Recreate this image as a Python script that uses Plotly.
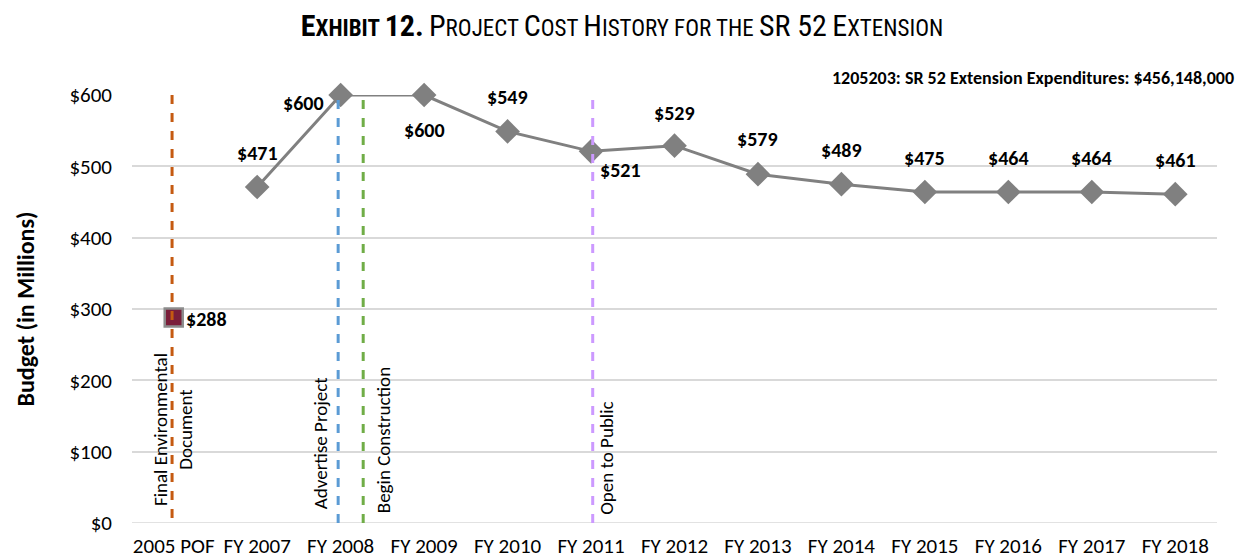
import plotly.graph_objects as go

categories = ["2005 POF", "FY 2007", "FY 2008", "FY 2009", "FY 2010", "FY 2011", "FY 2012",
              "FY 2013", "FY 2014", "FY 2015", "FY 2016", "FY 2017", "FY 2018"]
pof_value = [288]
fy_values = [471, 600, 600, 549, 521, 529, 489, 475, 464, 464, 464, 461]
fy_labels = ["$471", "$600", "$600", "$549", "$521", "$529", "$579", "$489", "$475", "$464", "$464", "$461"]
y_ticks = [0, 100, 200, 300, 400, 500, 600]

milestones = ["Final Environmental<br>Document", "Advertise Project", "Begin Construction", "Open to Public"]
milestone_pos = [-0.02, 1.97, 2.27, 5.02]
milestone_colors = ["#C55A11", "#5B9BD5", "#70AD47", "#CC99FF"]

FONT = "Carlito, Lato, Open Sans, sans-serif"
x_idx = list(range(len(categories)))
fy_x = x_idx[1:]

fig = go.Figure()

# milestone vertical lines
line_tops = [600, 598, 600, 604]
line_bottoms = [7, 0, 0, 0]
for p, c, t, b in zip(milestone_pos, milestone_colors, line_tops, line_bottoms):
    fig.add_shape(type="line", x0=p, x1=p, y0=b, y1=t, xref="x", yref="y",
                  line=dict(color=c, width=3, dash="dash"), layer="above")

fig.add_trace(go.Scatter(x=fy_x, y=fy_values, mode="lines+markers",
                         line=dict(color="#808080", width=3),
                         marker=dict(symbol="diamond", size=19, color="#808080"),
                         cliponaxis=False, hoverinfo="skip", showlegend=False))
fig.add_trace(go.Scatter(x=[0], y=pof_value, mode="markers",
                         marker=dict(symbol="square", size=18, color="#7A1E3A",
                                     line=dict(color="#8C8C8C", width=2.5)),
                         cliponaxis=False, hoverinfo="skip", showlegend=False))

# data labels
label_offsets = [(0, 34), (-37, -8), (0, -35), (0, 34), (29, -19), (0, 33),
                 (0, 35), (0, 34), (0, 34), (0, 34), (0, 34), (0, 34)]
for xi, v, lab, (dx, dy) in zip(fy_x, fy_values, fy_labels, label_offsets):
    fig.add_annotation(x=xi, y=v, text="<b>" + lab + "</b>", showarrow=False,
                       xshift=dx, yshift=dy, font=dict(family=FONT, size=20, color="#000"))
fig.add_annotation(x=0, y=pof_value[0], text="<b>$" + str(pof_value[0]) + "</b>", showarrow=False,
                   xshift=33, yshift=-1, font=dict(family=FONT, size=20, color="#000"))

# milestone labels (rotated)
ms_offsets = [(1, 430), (-18, 443), (20, 440), (13, 458)]
for name, p, (dx, ypix) in zip(milestones, milestone_pos, ms_offsets):
    fig.add_annotation(x=p, y=(523 - ypix) / 428 * 600, text=name, textangle=-90, showarrow=False,
                       xshift=dx, align="center", font=dict(family=FONT, size=19, color="#000"))

fig.add_annotation(x=(1236 - 132) / 1085, xref="paper", xanchor="right",
                   y=(523 - 78) / 428, yref="paper", yanchor="middle",
                   text="<b>1205203: SR 52 Extension Expenditures: $456,148,000</b>", showarrow=False,
                   font=dict(family=FONT, size=18, color="#000"))

B = "<span style='font-size:30px'>"
sc = lambda big, small: (B + big + "</span>" + small)
title = ("<b>" + sc("E", "XHIBIT") + " " + B + "12.</span></b> "
         + sc("P", "ROJECT") + " " + sc("C", "OST") + " " + sc("H", "ISTORY") + " FOR THE "
         + B + "SR 52</span> " + sc("E", "XTENSION"))

fig.update_layout(
    width=1238, height=560,
    margin=dict(l=132, r=21, t=95, b=37),
    paper_bgcolor="white", plot_bgcolor="white",
    title=dict(text=title, x=622 / 1238, xanchor="center", y=1 - 28 / 560, yanchor="middle",
               font=dict(family="Liberation Sans Narrow, Arial Narrow, Roboto Condensed, Liberation Sans",
                         size=23, color="#000")),
    xaxis=dict(range=[-0.5, 12.5], tickvals=x_idx, ticktext=categories, showgrid=False,
               zeroline=False, showline=False, ticks="", ticklabelstandoff=8, automargin=False,
               tickfont=dict(family=FONT, size=21, color="#000")),
    yaxis=dict(range=[0, 600], tickvals=y_ticks, ticktext=["$" + str(v) for v in y_ticks],
               showgrid=True, gridcolor="#D9D9D9", gridwidth=1.5, zeroline=False,
               ticks="", ticklen=0, ticklabelstandoff=19, automargin=False,
               tickfont=dict(family=FONT, size=21, color="#000"),
               title=dict(text="<b>Budget (in Millions)</b>", standoff=28,
                          font=dict(family=FONT, size=24, color="#000"))),
)
fig.add_shape(type="line", xref="paper", x0=0, x1=1, yref="y", y0=0, y1=0,
              line=dict(color="#D9D9D9", width=1.5), layer="below")

fig.write_html("out.html", config={"displayModeBar": False},
               post_script="document.body.style.margin='0';document.body.style.padding='0';")
